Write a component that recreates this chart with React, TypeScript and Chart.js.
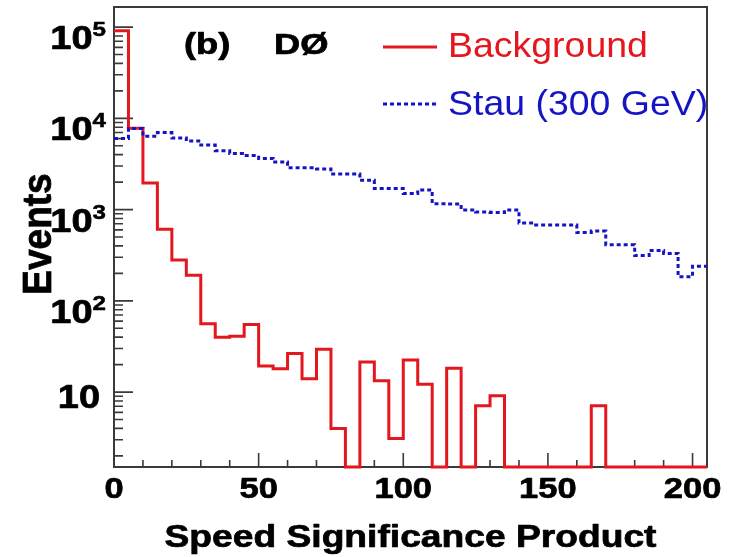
import React, { useEffect, useRef } from "react";
import { Chart, registerables } from "chart.js";

Chart.register(...registerables);

// ---- data ----
const BIN_LOW_EDGES = [
  0, 5, 10, 15, 20, 25, 30, 35, 40, 45, 50, 55, 60, 65, 70, 75, 80, 85, 90, 95,
  100, 105, 110, 115, 120, 125, 130, 135, 140, 145, 150, 155, 160, 165, 170, 175,
  180, 185, 190, 195, 200,
];
const X_MIN = 0;
const X_MAX = 205;
const Y_MIN = 1.51;
const Y_MAX = 1.66e5;

const BACKGROUND_EVENTS = [
  91000, 7800, 1950, 607, 280, 191, 56, 40, 41, 55, 19.3, 18, 26.5, 14, 29.4, 4.0,
  0, 21.3, 13.3, 3.1, 22.4, 12.2, 0, 18.2, 0, 7.1, 9.1, 0, 0, 0, 0, 0, 0, 7.1, 0,
  0, 0, 0, 0, 0, 0,
];
const STAU_EVENTS = [
  6030, 7760, 6380, 6980, 6080, 5640, 5090, 4410, 4130, 3910, 3640, 3320, 2880,
  2880, 2780, 2450, 2450, 2100, 1700, 1700, 1500, 1640, 1160, 1150, 990, 940, 930,
  990, 711, 676, 676, 676, 560, 581, 413, 413, 313, 356, 331, 184, 240,
];

const X_TICKS = [0, 50, 100, 150, 200];
const X_TICK_LABELS = ["0", "50", "100", "150", "200"];
const X_MINOR_STEP = 10;
const Y_TICKS = [10, 100, 1000, 10000, 100000];
const Y_TICK_BASES = ["10", "10", "10", "10", "10"];
const Y_TICK_EXPONENTS = ["", "2", "3", "4", "5"];

const SERIES_NAMES = ["Background", "Stau (300 GeV)"];
const X_TITLE = "Speed Significance Product";
const Y_TITLE = "Events";
const PANEL_LABEL = "(b)";
const EXPERIMENT_LABEL = "DØ";

// ---- styles ----
const RED = "#e3171d";
const BLUE = "#1414c4";
const FRAME = "#3a3a3a";
const FONT = '"Liberation Sans", Arial, Helvetica, sans-serif';

function histPoints(values: number[]) {
  const pts = BIN_LOW_EDGES.map((e, i) => ({ x: e, y: values[i] > 0 ? values[i] : Y_MIN }));
  const last = values[values.length - 1];
  pts.push({ x: X_MAX, y: last > 0 ? last : Y_MIN });
  return pts;
}

function drawText(
  ctx: CanvasRenderingContext2D,
  text: string,
  x: number,
  y: number,
  font: string,
  color: string,
  align: CanvasTextAlign,
  sx: number,
  embolden = 0
) {
  ctx.save();
  ctx.font = font;
  ctx.fillStyle = color;
  ctx.textAlign = align;
  ctx.textBaseline = "alphabetic";
  ctx.translate(x, y);
  ctx.scale(sx, 1);
  ctx.fillText(text, 0, 0);
  if (embolden > 0) {
    ctx.strokeStyle = color;
    ctx.lineWidth = embolden;
    ctx.lineJoin = "round";
    ctx.strokeText(text, 0, 0);
  }
  ctx.restore();
}

function textWidth(ctx: CanvasRenderingContext2D, text: string, font: string, sx: number) {
  ctx.save();
  ctx.font = font;
  const w = ctx.measureText(text).width * sx;
  ctx.restore();
  return w;
}

const rootStyle = {
  id: "rootStyle",
  beforeDatasetsDraw(chart: any) {
    const { ctx, chartArea: a } = chart;
    const xs = chart.scales.x;
    const ys = chart.scales.y;
    ctx.save();
    ctx.strokeStyle = FRAME;
    ctx.lineWidth = 2;
    ctx.strokeRect(a.left, a.top, a.right - a.left, a.bottom - a.top);
    ctx.lineWidth = 1.6;
    ctx.beginPath();
    for (let v = X_MIN; v <= X_MAX; v += X_MINOR_STEP) {
      const px = xs.getPixelForValue(v);
      const major = X_TICKS.includes(v);
      ctx.moveTo(px, a.bottom);
      ctx.lineTo(px, a.bottom - (major ? 14 : 7));
    }
    for (let e = 0; e <= 5; e++) {
      for (let k = 1; k <= 9; k++) {
        const v = k * Math.pow(10, e);
        if (v < Y_MIN || v > Y_MAX) continue;
        const py = ys.getPixelForValue(v);
        ctx.moveTo(a.left, py);
        ctx.lineTo(a.left + (k === 1 ? 19 : 9), py);
      }
    }
    ctx.stroke();
    ctx.restore();
  },
  afterDatasetsDraw(chart: any) {
    const { ctx, chartArea: a } = chart;
    const xs = chart.scales.x;
    const ys = chart.scales.y;
    const labelFont = `bold 30px ${FONT}`;
    const yBaseFont = `bold 33px ${FONT}`;
    const yExpFont = `bold 21px ${FONT}`;
    const SX = 1.15;
    const EM = 0.7;

    // x tick labels
    X_TICKS.forEach((v, i) => {
      drawText(ctx, X_TICK_LABELS[i], xs.getPixelForValue(v), a.bottom + 31, labelFont, "#000", "center", SX, EM);
    });

    // y tick labels
    Y_TICKS.forEach((v, i) => {
      const py = ys.getPixelForValue(v);
      const base = Y_TICK_BASES[i];
      const exp = Y_TICK_EXPONENTS[i];
      if (!exp) {
        drawText(ctx, base, a.left - 14, py + 16, yBaseFont, "#000", "right", SX, EM);
      } else {
        const R = a.left - 8;
        const ew = textWidth(ctx, exp, yExpFont, SX);
        drawText(ctx, exp, R - ew, py + 9, yExpFont, "#000", "left", SX, 0.5);
        drawText(ctx, base, R - ew, py + 22, yBaseFont, "#000", "right", SX, EM);
      }
    });

    // axis titles
    drawText(ctx, X_TITLE, (a.left + a.right) / 2, a.bottom + 80, `bold 31px ${FONT}`, "#000", "center", 1.2, EM);
    ctx.save();
    ctx.translate(51, (a.top + a.bottom) / 2 - 3);
    ctx.rotate(-Math.PI / 2);
    ctx.scale(1, 1.08);
    ctx.font = `bold 37px ${FONT}`;
    ctx.fillStyle = "#000";
    ctx.strokeStyle = "#000";
    ctx.lineWidth = EM;
    ctx.textAlign = "center";
    ctx.textBaseline = "alphabetic";
    ctx.fillText(Y_TITLE, 0, 0);
    ctx.strokeText(Y_TITLE, 0, 0);
    ctx.restore();

    // panel labels
    drawText(ctx, PANEL_LABEL, 184, 54, `bold 29px ${FONT}`, "#000", "left", 1.25, EM);
    drawText(ctx, EXPERIMENT_LABEL, 274, 54, `bold 29px ${FONT}`, "#000", "left", 1.25, EM);

    // legend
    ctx.save();
    ctx.lineWidth = 3;
    ctx.strokeStyle = RED;
    ctx.beginPath();
    ctx.moveTo(383, 47);
    ctx.lineTo(437, 47);
    ctx.stroke();
    ctx.strokeStyle = BLUE;
    ctx.setLineDash([4, 3]);
    ctx.beginPath();
    ctx.moveTo(383, 104);
    ctx.lineTo(437, 104);
    ctx.stroke();
    ctx.restore();
    drawText(ctx, SERIES_NAMES[0], 448, 57, `35px ${FONT}`, RED, "left", 1.07);
    drawText(ctx, SERIES_NAMES[1], 448, 115, `35px ${FONT}`, BLUE, "left", 1.07);
  },
};

export default function App() {
  const ref = useRef<HTMLCanvasElement | null>(null);
  useEffect(() => {
    document.body.style.margin = "0";
    if (!ref.current) return;
    const chart = new Chart(ref.current, {
      type: "line",
      data: {
        datasets: [
          {
            label: SERIES_NAMES[1],
            data: histPoints(STAU_EVENTS),
            stepped: "before",
            borderColor: BLUE,
            borderWidth: 3,
            borderDash: [4, 3],
            pointRadius: 0,
            fill: false,
            clip: 3,
          } as any,
          {
            label: SERIES_NAMES[0],
            data: histPoints(BACKGROUND_EVENTS),
            stepped: "before",
            borderColor: RED,
            borderWidth: 3,
            pointRadius: 0,
            fill: false,
            clip: 3,
          } as any,
        ],
      },
      options: {
        animation: false,
        responsive: false,
        devicePixelRatio: 1,
        layout: { padding: { left: 114, right: 27, top: 7, bottom: 90 } },
        plugins: { legend: { display: false }, tooltip: { enabled: false } },
        scales: {
          x: { type: "linear", min: X_MIN, max: X_MAX, display: false },
          y: { type: "logarithmic", min: Y_MIN, max: Y_MAX, display: false },
        },
      },
      plugins: [rootStyle],
    });
    return () => chart.destroy();
  }, []);
  return (
    <div style={{ width: 734, height: 557, background: "#fff" }}>
      <canvas ref={ref} width={734} height={557} style={{ width: 734, height: 557, display: "block" }} />
    </div>
  );
}
